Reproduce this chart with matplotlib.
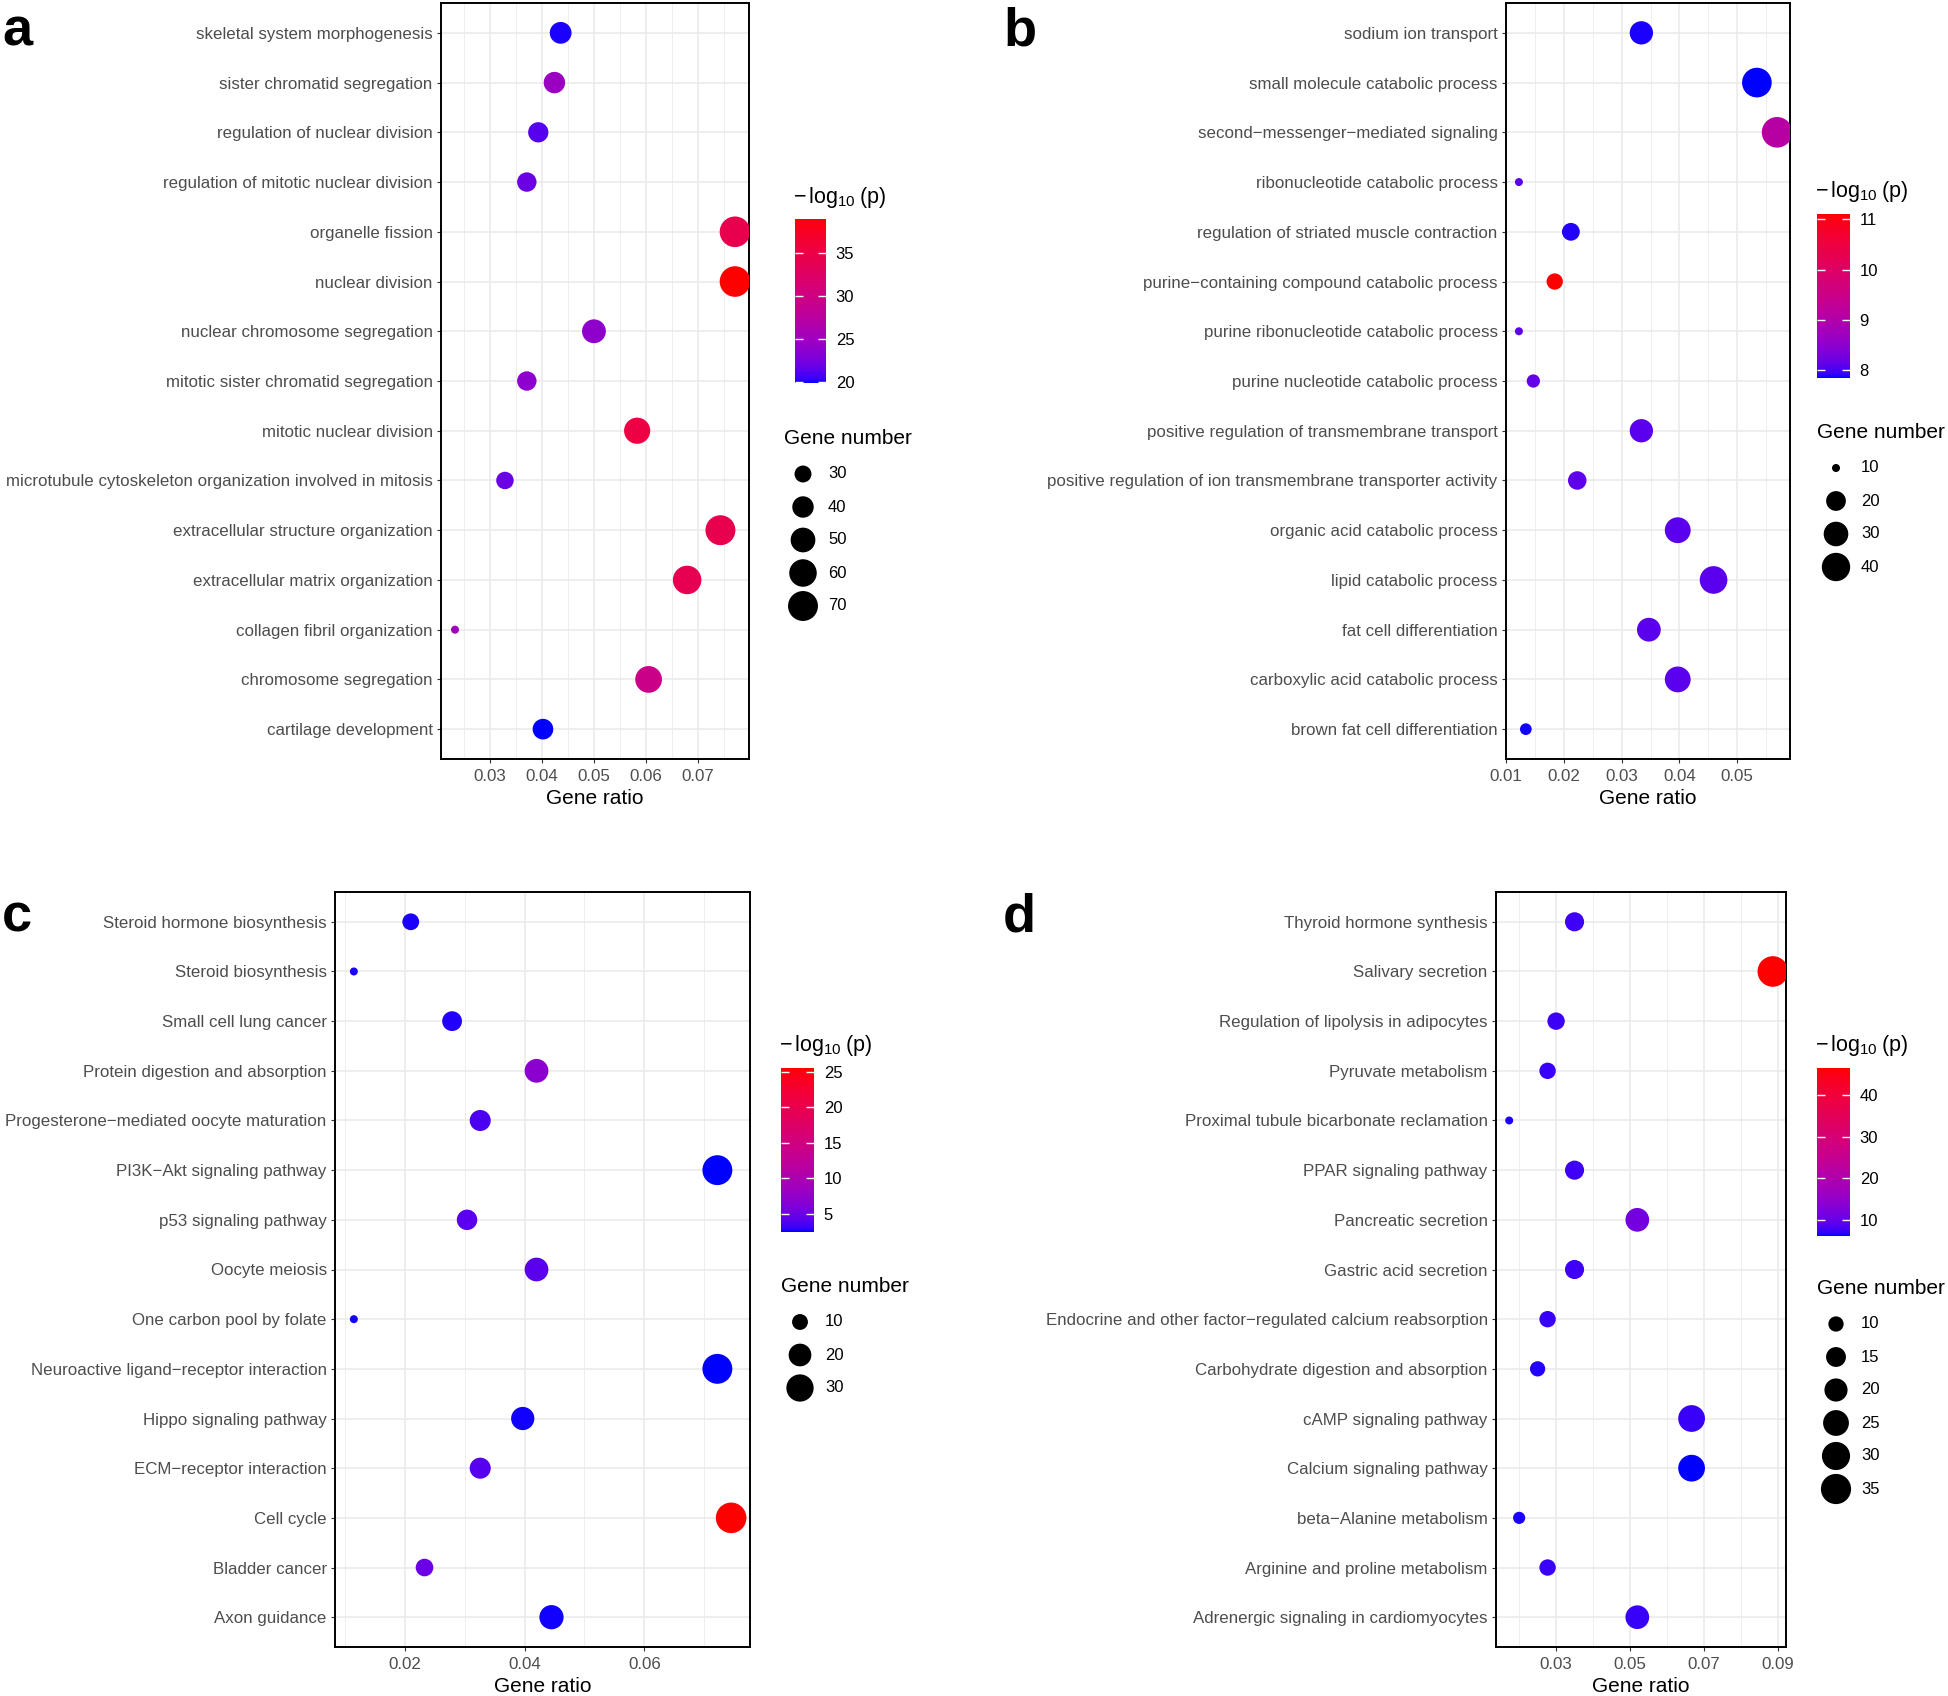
import numpy as np
import matplotlib

matplotlib.use("Agg")
import matplotlib.pyplot as plt
from matplotlib.colors import ListedColormap, Normalize
from matplotlib.ticker import FixedLocator, MultipleLocator, FormatStrFormatter

plt.rcParams["font.family"] = ["Liberation Sans", "DejaVu Sans"]
plt.rcParams["mathtext.fontset"] = "custom"
plt.rcParams["mathtext.rm"] = "Liberation Sans"
plt.rcParams["mathtext.it"] = "Liberation Sans"
plt.rcParams["mathtext.default"] = "regular"

W, H, DPI = 1948, 1696, 100

# --------------------------------------------------------------------------
# Data
# --------------------------------------------------------------------------

A_TERMS = [
    "skeletal system morphogenesis",
    "sister chromatid segregation",
    "regulation of nuclear division",
    "regulation of mitotic nuclear division",
    "organelle fission",
    "nuclear division",
    "nuclear chromosome segregation",
    "mitotic sister chromatid segregation",
    "mitotic nuclear division",
    "microtubule cytoskeleton organization involved in mitosis",
    "extracellular structure organization",
    "extracellular matrix organization",
    "collagen fibril organization",
    "chromosome segregation",
    "cartilage development",
]
A_RATIO = [0.0436, 0.0424, 0.0393, 0.0371, 0.0771, 0.0771, 0.0500, 0.0371,
           0.0583, 0.0329, 0.0743, 0.0679, 0.0233, 0.0605, 0.0402]
A_LOGP = [20.1, 24.7, 21.2, 22.0, 34.2, 38.9, 23.9, 23.7,
          35.1, 22.0, 34.2, 34.0, 25.2, 29.4, 19.9]
A_COUNT = [41, 40, 37, 35, 73, 73, 47, 35, 55, 31, 70, 64, 22, 57, 38]
A_XTICKS = [0.03, 0.04, 0.05, 0.06, 0.07]
A_SIZE_BREAKS = [30, 40, 50, 60, 70]
A_CBAR_TICKS = [20, 25, 30, 35]

B_TERMS = [
    "sodium ion transport",
    "small molecule catabolic process",
    "second\u2212messenger\u2212mediated signaling",
    "ribonucleotide catabolic process",
    "regulation of striated muscle contraction",
    "purine\u2212containing compound catabolic process",
    "purine ribonucleotide catabolic process",
    "purine nucleotide catabolic process",
    "positive regulation of transmembrane transport",
    "positive regulation of ion transmembrane transporter activity",
    "organic acid catabolic process",
    "lipid catabolic process",
    "fat cell differentiation",
    "carboxylic acid catabolic process",
    "brown fat cell differentiation",
]
B_RATIO = [0.0334, 0.0534, 0.0569, 0.0122, 0.0212, 0.0184, 0.0122, 0.0147,
           0.0334, 0.0223, 0.0397, 0.0459, 0.0347, 0.0397, 0.0134]
B_LOGP = [7.88, 7.85, 9.1, 8.1, 7.9, 11.1, 8.1, 8.15,
          8.1, 8.12, 8.1, 8.1, 8.1, 8.1, 7.87]
B_COUNT = [27, 44, 47, 10, 17, 15, 10, 12, 27, 18, 33, 38, 28, 33, 11]
B_XTICKS = [0.01, 0.02, 0.03, 0.04, 0.05]
B_SIZE_BREAKS = [10, 20, 30, 40]
B_CBAR_TICKS = [8, 9, 10, 11]

C_TERMS = [
    "Steroid hormone biosynthesis",
    "Steroid biosynthesis",
    "Small cell lung cancer",
    "Protein digestion and absorption",
    "Progesterone\u2212mediated oocyte maturation",
    "PI3K\u2212Akt signaling pathway",
    "p53 signaling pathway",
    "Oocyte meiosis",
    "One carbon pool by folate",
    "Neuroactive ligand\u2212receptor interaction",
    "Hippo signaling pathway",
    "ECM\u2212receptor interaction",
    "Cell cycle",
    "Bladder cancer",
    "Axon guidance",
]
C_RATIO = [0.0210, 0.0115, 0.0279, 0.0420, 0.0326, 0.0722, 0.0304, 0.0420,
           0.0115, 0.0722, 0.0397, 0.0326, 0.0745, 0.0233, 0.0445]
C_LOGP = [2.6, 2.6, 2.7, 7.0, 3.6, 2.4, 4.2, 4.2,
          2.5, 2.4, 2.5, 4.0, 25.5, 5.0, 2.5]
C_COUNT = [11, 6, 15, 22, 17, 37, 16, 22, 6, 37, 21, 17, 39, 12, 23]
C_XTICKS = [0.02, 0.04, 0.06]
C_SIZE_BREAKS = [10, 20, 30]
C_CBAR_TICKS = [5, 10, 15, 20, 25]

D_TERMS = [
    "Thyroid hormone synthesis",
    "Salivary secretion",
    "Regulation of lipolysis in adipocytes",
    "Pyruvate metabolism",
    "Proximal tubule bicarbonate reclamation",
    "PPAR signaling pathway",
    "Pancreatic secretion",
    "Gastric acid secretion",
    "Endocrine and other factor\u2212regulated calcium reabsorption",
    "Carbohydrate digestion and absorption",
    "cAMP signaling pathway",
    "Calcium signaling pathway",
    "beta\u2212Alanine metabolism",
    "Arginine and proline metabolism",
    "Adrenergic signaling in cardiomyocytes",
]
D_RATIO = [0.0350, 0.0887, 0.0300, 0.0277, 0.0173, 0.0350, 0.0520, 0.0350,
           0.0277, 0.0250, 0.0667, 0.0667, 0.0200, 0.0277, 0.0520]
D_LOGP = [7.6, 46.6, 7.5, 7.3, 6.5, 7.6, 11.4, 7.6,
          7.3, 6.6, 7.3, 6.1, 6.5, 7.3, 7.3]
D_COUNT = [14, 36, 12, 11, 7, 14, 21, 14, 11, 10, 27, 27, 8, 11, 21]
D_XTICKS = [0.03, 0.05, 0.07, 0.09]
D_SIZE_BREAKS = [10, 15, 20, 25, 30, 35]
D_CBAR_TICKS = [10, 20, 30, 40]


# --------------------------------------------------------------------------
# Colour ramp: blue -> red interpolated in CIELAB (like ggplot's gradient)
# --------------------------------------------------------------------------

WHITE = np.array([0.95047, 1.0, 1.08883])
M_RGB2XYZ = np.array([[0.4124, 0.3576, 0.1805],
                      [0.2126, 0.7152, 0.0722],
                      [0.0193, 0.1192, 0.9505]])
M_XYZ2RGB = np.linalg.inv(M_RGB2XYZ)


def _rgb_to_lab(rgb):
    rgb = np.asarray(rgb, float)
    lin = np.where(rgb <= 0.04045, rgb / 12.92, ((rgb + 0.055) / 1.055) ** 2.4)
    xyz = M_RGB2XYZ @ lin / WHITE
    f = np.where(xyz > 0.008856, np.cbrt(xyz), 7.787 * xyz + 16 / 116)
    return np.array([116 * f[1] - 16, 500 * (f[0] - f[1]), 200 * (f[1] - f[2])])


def _lab_to_rgb(lab):
    L, a, b = lab
    fy = (L + 16) / 116
    f = np.array([fy + a / 500, fy, fy - b / 200])
    xyz = np.where(f ** 3 > 0.008856, f ** 3, (f - 16 / 116) / 7.787) * WHITE
    lin = np.clip(M_XYZ2RGB @ xyz, 0, 1)
    rgb = np.where(lin <= 0.0031308, 12.92 * lin, 1.055 * lin ** (1 / 2.4) - 0.055)
    return np.clip(rgb, 0, 1)


lab_lo, lab_hi = _rgb_to_lab([0, 0, 1]), _rgb_to_lab([1, 0, 0])
CMAP = ListedColormap([_lab_to_rgb(lab_lo + t * (lab_hi - lab_lo))
                       for t in np.linspace(0, 1, 256)])


# --------------------------------------------------------------------------
# Helpers
# --------------------------------------------------------------------------

D_MIN_PX, D_RANGE_PX = 8.0, 22.6


def point_area(values, vmin, vmax):
    """ggplot-like area scale: diameter grows with sqrt of rescaled value."""
    v = np.asarray(values, float)
    d_px = D_MIN_PX + D_RANGE_PX * np.sqrt(np.clip((v - vmin) / (vmax - vmin), 0, 1))
    return (d_px * 72 / DPI) ** 2


def px_rect(left, top, right, bottom):
    return [left / W, 1 - bottom / H, (right - left) / W, (bottom - top) / H]


fig = plt.figure(figsize=(W / DPI, H / DPI), dpi=DPI)
overlay = fig.add_axes([0, 0, 1, 1], zorder=5)
overlay.set_xlim(0, W)
overlay.set_ylim(H, 0)
overlay.axis("off")


def draw_panel(letter, terms, ratio, logp, count, xticks, minor_step,
               size_breaks, cbar_ticks, axes_box, letter_xy, cbar_box, legend):
    ax = fig.add_axes(px_rect(*axes_box))
    y = np.arange(len(terms))
    cmin, cmax = min(count), max(count)
    norm = Normalize(min(logp), max(logp))
    sc = ax.scatter(ratio, y, s=point_area(count, cmin, cmax), c=logp,
                    cmap=CMAP, norm=norm, linewidths=0, zorder=3)

    lo, hi = min(ratio), max(ratio)
    pad = 0.05 * (hi - lo)
    ax.set_xlim(lo - pad, hi + pad)
    ax.set_ylim(len(terms) - 0.4, -0.6)

    ax.xaxis.set_major_locator(FixedLocator(xticks))
    ax.xaxis.set_minor_locator(MultipleLocator(minor_step))
    ax.xaxis.set_major_formatter(FormatStrFormatter("%.2f"))
    ax.set_yticks(y)
    ax.set_yticklabels(terms)

    ax.grid(which="major", color="#EBEBEB", lw=1.2)
    ax.grid(which="minor", axis="x", color="#EBEBEB", lw=0.6)
    ax.set_axisbelow(True)
    for sp in ax.spines.values():
        sp.set_color("black")
        sp.set_linewidth(1.4)
    ax.tick_params(which="major", length=3, width=0.8, color="#333333",
                   labelsize=12.2, labelcolor="#4D4D4D", pad=3)
    ax.tick_params(axis="x", which="major", pad=4.5)
    ax.tick_params(which="minor", length=0)
    ax.set_xlabel("Gene ratio", fontsize=15, color="black", labelpad=3)

    fig.text(letter_xy[0] / W, 1 - letter_xy[1] / H, letter, fontsize=39,
             fontweight="bold", ha="left", va="center")

    # colour bar
    cax = fig.add_axes(px_rect(*cbar_box))
    cb = fig.colorbar(sc, cax=cax)
    cb.outline.set_visible(False)
    cb.set_ticks(cbar_ticks)
    cax.tick_params(which="major", direction="in", length=6, width=1,
                    color="white", left=True, right=True, labelleft=False,
                    labelright=True, labelsize=12, pad=7)
    cax.tick_params(which="minor", length=0)
    overlay.text(cbar_box[0] - 2, cbar_box[1] - 22,
                 r"$-\,\mathregular{log}_{\mathregular{10}}\;\mathregular{(p)}$",
                 fontsize=15.5, ha="left", va="center")

    # size legend
    lx, ly, step = legend
    overlay.text(lx, ly + 2, "Gene number", fontsize=15, ha="left", va="center")
    ys = ly + 37 + step * np.arange(len(size_breaks))
    overlay.scatter(np.full(len(ys), lx + 19.0), ys,
                    s=point_area(size_breaks, cmin, cmax), color="black",
                    linewidths=0)
    for yy, b in zip(ys, size_breaks):
        overlay.text(lx + 44, yy, str(b), fontsize=12, ha="left", va="center")


draw_panel("a", A_TERMS, A_RATIO, A_LOGP, A_COUNT, A_XTICKS, 0.005,
           A_SIZE_BREAKS, A_CBAR_TICKS, (441, 3, 749, 759), (2, 32),
           (795, 219, 826, 383), (784, 437, 33))
draw_panel("b", B_TERMS, B_RATIO, B_LOGP, B_COUNT, B_XTICKS, 0.005,
           B_SIZE_BREAKS, B_CBAR_TICKS, (1506, 3, 1790, 759), (1003, 32),
           (1817, 214, 1850, 378), (1817, 431, 33))
draw_panel("c", C_TERMS, C_RATIO, C_LOGP, C_COUNT, C_XTICKS, 0.01,
           C_SIZE_BREAKS, C_CBAR_TICKS, (335, 892, 750, 1647), (2, 918),
           (781, 1068, 814, 1232), (781, 1285, 33))
draw_panel("d", D_TERMS, D_RATIO, D_LOGP, D_COUNT, D_XTICKS, 0.01,
           D_SIZE_BREAKS, D_CBAR_TICKS, (1496, 892, 1786, 1647), (1003, 918),
           (1817, 1068, 1850, 1236), (1817, 1287, 33))

fig.savefig("out.png", dpi=DPI)
